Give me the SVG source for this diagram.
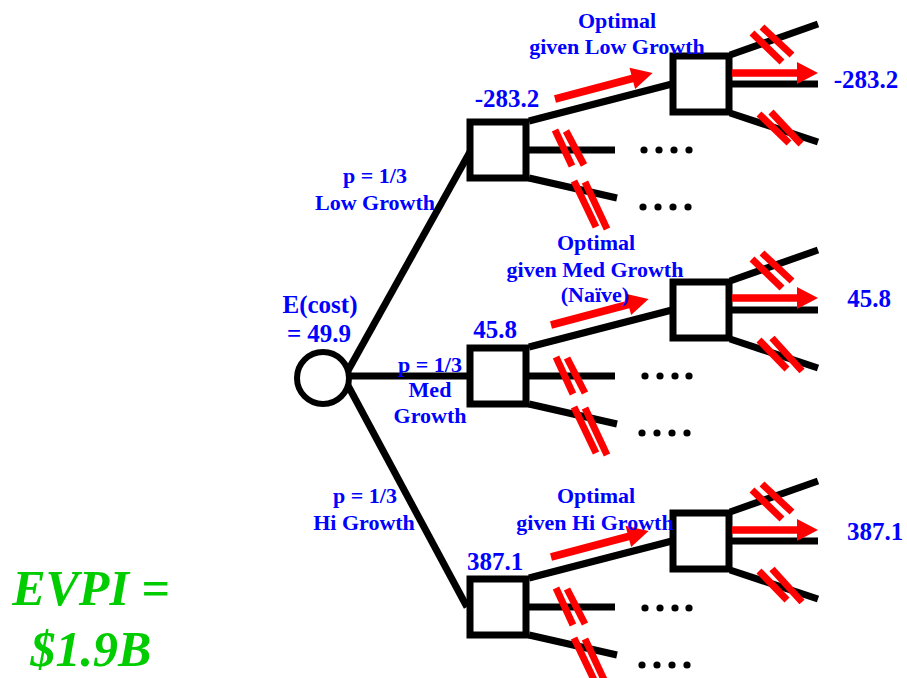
<svg xmlns="http://www.w3.org/2000/svg" xmlns:xlink="http://www.w3.org/1999/xlink" width="907" height="678" viewBox="0 0 907 678">
<style>
.ln{stroke:#000;stroke-width:7;fill:none}
.bx{stroke:#000;stroke-width:7;fill:#fff}
.cc{stroke:#000;stroke-width:6;fill:#fff}
.sl{stroke:#ff0000;stroke-width:7}
.ar{fill:#ff0000}
.dot{fill:#000}
.lb{font-family:"Liberation Serif","Times New Roman",serif;font-weight:bold;font-size:22px;fill:#0000ff;text-anchor:middle}
.val{font-family:"Liberation Serif","Times New Roman",serif;font-weight:bold;font-size:25px;fill:#0000ff;text-anchor:middle}
.evpi{font-family:"Liberation Serif","Times New Roman",serif;font-weight:bold;font-style:italic;font-size:50px;fill:#00cc00;text-anchor:middle}
</style>
<defs>
<path id="arrL" d="M0,-3.8 H80 V-11 L101,0 L80,11 V3.8 H0 Z"/>
<path id="arrS" d="M0,-3.8 H65 V-11 L86,0 L65,11 V3.8 H0 Z"/>
</defs>
<rect width="907" height="678" fill="#fff"/>
<g id="connectors">
<line class="ln" x1="345" y1="376" x2="471" y2="150"/>
<line class="ln" x1="345" y1="376" x2="470" y2="376"/>
<line class="ln" x1="345" y1="380" x2="467" y2="607"/>
<!-- low -->
<line class="ln" x1="529" y1="121" x2="672" y2="84"/>
<line class="ln" x1="529" y1="150" x2="615" y2="150"/>
<line class="ln" x1="529" y1="178" x2="617" y2="198"/>
<line class="ln" x1="730" y1="55" x2="818" y2="24"/>
<line class="ln" x1="730" y1="84" x2="818" y2="84"/>
<line class="ln" x1="730" y1="113" x2="818" y2="142"/>
<!-- med -->
<line class="ln" x1="529" y1="347" x2="672" y2="310"/>
<line class="ln" x1="529" y1="376" x2="615" y2="376"/>
<line class="ln" x1="529" y1="404" x2="617" y2="424"/>
<line class="ln" x1="730" y1="281" x2="818" y2="250"/>
<line class="ln" x1="730" y1="310" x2="818" y2="310"/>
<line class="ln" x1="730" y1="339" x2="818" y2="368"/>
<!-- hi -->
<line class="ln" x1="529" y1="578" x2="672" y2="541"/>
<line class="ln" x1="529" y1="607" x2="615" y2="607"/>
<line class="ln" x1="529" y1="635" x2="617" y2="655"/>
<line class="ln" x1="730" y1="512" x2="818" y2="481"/>
<line class="ln" x1="730" y1="541" x2="818" y2="541"/>
<line class="ln" x1="730" y1="570" x2="818" y2="599"/>
</g>
<g id="chance">
<circle class="cc" cx="323" cy="378" r="26"/>
</g>
<g id="dec-low-1"><rect class="bx" x="470" y="122" width="56" height="56"/></g>
<g id="dec-low-2"><rect class="bx" x="673" y="56" width="56" height="56"/></g>
<g id="dec-med-1"><rect class="bx" x="470" y="348" width="56" height="56"/></g>
<g id="dec-med-2"><rect class="bx" x="673" y="282" width="56" height="56"/></g>
<g id="dec-hi-1"><rect class="bx" x="470" y="579" width="56" height="56"/></g>
<g id="dec-hi-2"><rect class="bx" x="673" y="513" width="56" height="56"/></g>
<g id="marks">
<!-- low -->
<use xlink:href="#arrL" href="#arrL" class="ar" transform="translate(555,99) rotate(-14.86)"/>
<use xlink:href="#arrS" href="#arrS" class="ar" transform="translate(732,73)"/>
<line class="sl" x1="555" y1="130" x2="572" y2="166"/><line class="sl" x1="566" y1="131" x2="584" y2="165"/>
<line class="sl" x1="574" y1="181" x2="596" y2="227"/><line class="sl" x1="585" y1="182" x2="607" y2="229"/>
<line class="sl" x1="752" y1="33" x2="782" y2="62"/><line class="sl" x1="762" y1="27" x2="792" y2="55"/>
<line class="sl" x1="759" y1="114" x2="789" y2="143"/><line class="sl" x1="771" y1="112" x2="801" y2="144"/>
<!-- med -->
<use xlink:href="#arrL" href="#arrL" class="ar" transform="translate(551,325) rotate(-14.86)"/>
<use xlink:href="#arrS" href="#arrS" class="ar" transform="translate(732,298)"/>
<line class="sl" x1="556" y1="357" x2="573" y2="394"/><line class="sl" x1="567" y1="358" x2="585" y2="393"/>
<line class="sl" x1="574" y1="407" x2="596" y2="453"/><line class="sl" x1="585" y1="408" x2="607" y2="455"/>
<line class="sl" x1="752" y1="259" x2="782" y2="288"/><line class="sl" x1="762" y1="253" x2="792" y2="281"/>
<line class="sl" x1="759" y1="340" x2="787" y2="369"/><line class="sl" x1="772" y1="338" x2="802" y2="371"/>
<!-- hi -->
<use xlink:href="#arrL" href="#arrL" class="ar" transform="translate(551,557) rotate(-14.86)"/>
<use xlink:href="#arrS" href="#arrS" class="ar" transform="translate(732,530)"/>
<line class="sl" x1="556" y1="588" x2="573" y2="625"/><line class="sl" x1="567" y1="589" x2="585" y2="624"/>
<line class="sl" x1="574" y1="638" x2="596" y2="684"/><line class="sl" x1="585" y1="639" x2="607" y2="686"/>
<line class="sl" x1="752" y1="490" x2="782" y2="519"/><line class="sl" x1="762" y1="484" x2="792" y2="512"/>
<line class="sl" x1="759" y1="571" x2="787" y2="600"/><line class="sl" x1="772" y1="569" x2="802" y2="602"/>
</g>
<g id="dots">
<circle class="dot" cx="644" cy="150" r="3.6"/><circle class="dot" cx="659" cy="150" r="3.6"/><circle class="dot" cx="674" cy="150" r="3.6"/><circle class="dot" cx="689" cy="150" r="3.6"/>
<circle class="dot" cx="643" cy="207" r="3.6"/><circle class="dot" cx="658" cy="207" r="3.6"/><circle class="dot" cx="673" cy="207" r="3.6"/><circle class="dot" cx="688" cy="207" r="3.6"/>
<circle class="dot" cx="645" cy="376" r="3.6"/><circle class="dot" cx="660" cy="376" r="3.6"/><circle class="dot" cx="675" cy="376" r="3.6"/><circle class="dot" cx="689" cy="376" r="3.6"/>
<circle class="dot" cx="642" cy="433" r="3.6"/><circle class="dot" cx="657" cy="433" r="3.6"/><circle class="dot" cx="672" cy="433" r="3.6"/><circle class="dot" cx="687" cy="433" r="3.6"/>
<circle class="dot" cx="645" cy="608" r="3.6"/><circle class="dot" cx="660" cy="608" r="3.6"/><circle class="dot" cx="675" cy="608" r="3.6"/><circle class="dot" cx="689" cy="608" r="3.6"/>
<circle class="dot" cx="642" cy="665" r="3.6"/><circle class="dot" cx="657" cy="665" r="3.6"/><circle class="dot" cx="672" cy="665" r="3.6"/><circle class="dot" cx="687" cy="665" r="3.6"/>
</g>
<g id="labels">
<text class="val" x="320" y="313">E(cost)</text>
<text class="val" x="319" y="342">= 49.9</text>
<text class="lb" x="375" y="183">p = 1/3</text>
<text class="lb" x="375" y="210">Low Growth</text>
<text class="lb" x="430" y="372">p = 1/3</text>
<text class="lb" x="430" y="397">Med</text>
<text class="lb" x="430" y="423">Growth</text>
<text class="lb" x="365" y="503">p = 1/3</text>
<text class="lb" x="364" y="530">Hi Growth</text>
<text class="lb" x="617" y="28">Optimal</text>
<text class="lb" x="617" y="54">given Low Growth</text>
<text class="lb" x="596" y="250">Optimal</text>
<text class="lb" x="595" y="277">given Med Growth</text>
<text class="lb" x="595" y="302">(Naïve)</text>
<text class="lb" x="596" y="503">Optimal</text>
<text class="lb" x="595" y="530">given Hi Growth</text>
<text class="val" x="507" y="107">-283.2</text>
<text class="val" x="866" y="88">-283.2</text>
<text class="val" x="495" y="338">45.8</text>
<text class="val" x="869" y="307">45.8</text>
<text class="val" x="495" y="570">387.1</text>
<text class="val" x="875" y="540">387.1</text>
<text class="evpi" x="91" y="605">EVPI =</text>
<text class="evpi" x="91" y="666">$1.9B</text>
</g>
</svg>
